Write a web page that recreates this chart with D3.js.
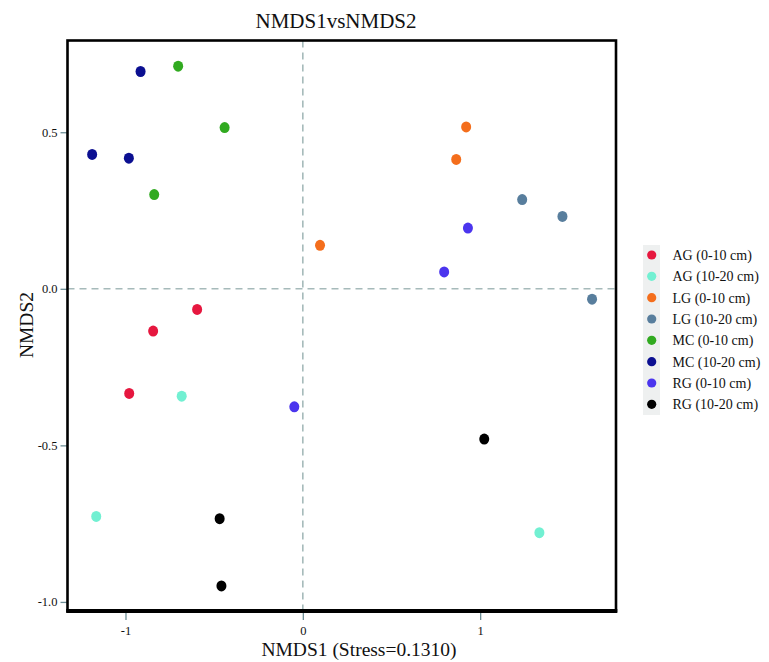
<!DOCTYPE html>
<html>
<head>
<meta charset="utf-8">
<script src="https://cdn.jsdelivr.net/npm/d3@7"></script>
<style>
  body { margin: 0; background: #fff; }
  svg text { font-family: "Liberation Serif", "Times New Roman", serif; fill: #111; }
  .axis path { display: none; }
  .axis line { stroke: #6d8e96; stroke-width: 1.3; }
  .axis text { font-size: 12.5px; fill: #111; }
</style>
</head>
<body>
<svg id="chart" width="769" height="662"></svg>
<script>
// groups shown in the legend, in order
const groups = ['AG (0-10 cm)', 'AG (10-20 cm)', 'LG (0-10 cm)', 'LG (10-20 cm)',
                'MC (0-10 cm)', 'MC (10-20 cm)', 'RG (0-10 cm)', 'RG (10-20 cm)'];
const groupColors = ['#e6173f', '#72f0d2', '#f46e1c', '#587e9d',
                     '#31aa20', '#0b0f91', '#4b35ee', '#000000'];

// NMDS1 / NMDS2 scores, one inner array per group (3 samples each)
const nmds1 = [
  [-0.596, -0.844, -0.979],
  [-0.683, -1.165, 1.334],
  [0.921, 0.865, 0.097],
  [1.237, 1.464, 1.631],
  [-0.703, -0.441, -0.838],
  [-0.915, -1.188, -0.981],
  [0.931, 0.797, -0.048],
  [1.023, -0.469, -0.459]
];
const nmds2 = [
  [-0.066, -0.135, -0.334],
  [-0.343, -0.727, -0.779],
  [0.517, 0.413, 0.139],
  [0.285, 0.231, -0.033],
  [0.711, 0.515, 0.301],
  [0.694, 0.429, 0.417],
  [0.194, 0.054, -0.377],
  [-0.480, -0.734, -0.949]
];

const xTicks = [-1, 0, 1];
const yTicks = [0.5, 0.0, -0.5, -1.0];

const margin = { top: 40.5, right: 153, bottom: 51, left: 67.5 };
const width = 769 - margin.left - margin.right;
const height = 662 - margin.top - margin.bottom;

const svg = d3.select('#chart');
const g = svg.append('g')
    .attr('transform', 'translate(' + margin.left + ',' + margin.top + ')');

const x = d3.scaleLinear().domain([-1.327, 1.766]).range([0, width]);
const y = d3.scaleLinear().domain([-1.029, 0.793]).range([height, 0]);

// zero reference lines
g.append('line')
    .attr('x1', x(0)).attr('x2', x(0))
    .attr('y1', 0).attr('y2', height)
    .attr('stroke', '#a6baba').attr('stroke-width', 1.6)
    .attr('stroke-dasharray', '7,5');
g.append('line')
    .attr('x1', 0).attr('x2', width)
    .attr('y1', y(0)).attr('y2', y(0))
    .attr('stroke', '#a6baba').attr('stroke-width', 1.6)
    .attr('stroke-dasharray', '7,5');

// axes
g.append('g')
    .attr('class', 'x axis')
    .attr('transform', 'translate(0,' + height + ')')
    .call(d3.axisBottom(x).tickValues(xTicks).tickSize(9).tickPadding(6)
          .tickFormat(d => String(d)));

g.append('g')
    .attr('class', 'y axis')
    .call(d3.axisLeft(y).tickValues(yTicks).tickSize(7).tickPadding(3)
          .tickFormat(d => d.toFixed(1)));

// points
groups.forEach((name, i) => {
    const pts = nmds1[i].map((v, j) => ({ x: v, y: nmds2[i][j] }));
    g.selectAll('.dot' + i)
        .data(pts)
        .enter().append('ellipse')
        .attr('class', 'dot' + i)
        .attr('cx', d => x(d.x))
        .attr('cy', d => y(d.y))
        .attr('rx', 5)
        .attr('ry', 5.5)
        .attr('fill', groupColors[i]);
});

// frame
g.append('rect')
    .attr('x', 0).attr('y', 0)
    .attr('width', width).attr('height', height)
    .attr('fill', 'none')
    .attr('stroke', '#000')
    .attr('stroke-width', 2.6);
g.append('line')
    .attr('x1', -1.3).attr('x2', width + 1.3)
    .attr('y1', height).attr('y2', height)
    .attr('stroke', '#000').attr('stroke-width', 4);

// titles
svg.append('text')
    .attr('x', 336).attr('y', 28)
    .attr('text-anchor', 'middle')
    .style('font-size', '21px')
    .text('NMDS1vsNMDS2');

svg.append('text')
    .attr('x', 359).attr('y', 656)
    .attr('text-anchor', 'middle')
    .style('font-size', '19.5px')
    .text('NMDS1 (Stress=0.1310)');

svg.append('text')
    .attr('transform', 'translate(33,325) rotate(-90)')
    .attr('text-anchor', 'middle')
    .style('font-size', '19.5px')
    .text('NMDS2');

// legend
const legend = svg.append('g').attr('transform', 'translate(643,245)');
legend.append('rect')
    .attr('x', 0).attr('y', 0)
    .attr('width', 17).attr('height', 170)
    .attr('fill', '#eef0f0');

const rows = legend.selectAll('.legend-row')
    .data(groups)
    .enter().append('g')
    .attr('class', 'legend-row')
    .attr('transform', (d, i) => 'translate(0,' + (10 + i * 21.33) + ')');

rows.append('circle')
    .attr('cx', 8.7)
    .attr('cy', 0)
    .attr('r', 4.6)
    .attr('fill', (d, i) => groupColors[i]);

rows.append('text')
    .attr('x', 29.5)
    .attr('y', 5)
    .style('font-size', '14px')
    .text(d => d);
</script>
</body>
</html>
